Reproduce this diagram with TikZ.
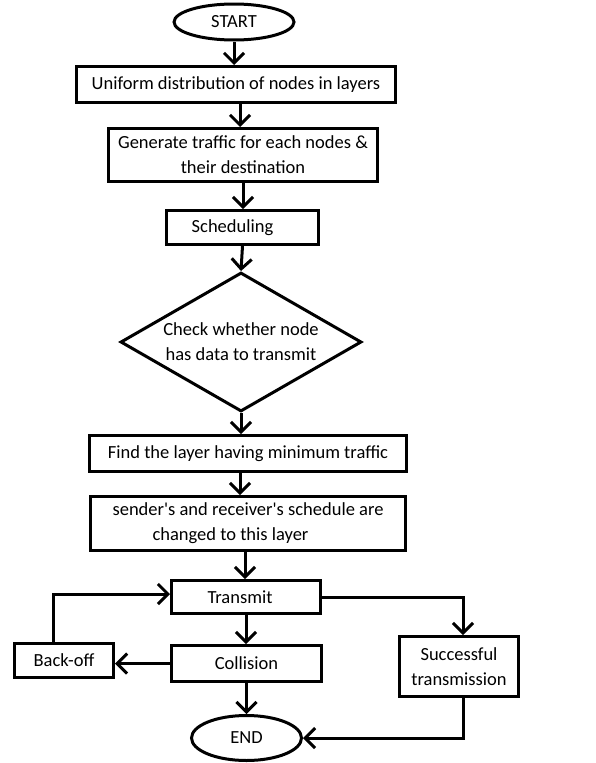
\documentclass[tikz,border=0pt]{standalone}
\usepackage{fontspec}
\setmainfont{Carlito}[Ligatures=TeXOff]
\usetikzlibrary{arrows.meta,shapes.geometric}
\begin{document}
\begin{tikzpicture}[x=1pt,y=-1pt,
  txt/.style={font=\fontsize{18.5}{25}\selectfont, text=black},
  box/.style={txt, draw, line width=3pt, rectangle, inner sep=0pt, align=center},
  oval/.style={txt, draw, line width=3pt, ellipse, inner sep=0pt},
  dec/.style={txt, draw, line width=3pt, diamond, aspect=1.72, inner sep=0pt, align=center},
  arr/.style={line width=3pt, -{Straight Barb[length=10pt,width=20pt]}}]
\useasboundingbox (0,0) rectangle (596,763);
\node[oval, minimum width=120pt, minimum height=36pt] (start) at (234,22) {START};
\node[box, minimum width=319pt, minimum height=36pt] (b1) at (236,84.5) {Uniform distribution of nodes in layers};
\node[box, minimum width=269pt, minimum height=53pt] (b2) at (243,155) {Generate traffic for each nodes \&\\their destination};
\node[box, minimum width=152pt, minimum height=34pt] (b3) at (242.5,227.5) {Scheduling\rule{20pt}{0pt}};
\node[dec, minimum width=241pt, minimum height=139pt] (dia) at (241,342) {Check whether node\\has data to transmit};
\node[box, minimum width=317pt, minimum height=36pt] (find) at (248,453.5) {Find the layer having minimum traffic};
\node[box, minimum width=315pt, minimum height=54pt] (send) at (248,523.5) {sender's and receiver's schedule are\\changed to this layer\rule{35pt}{0pt}};
\node[box, minimum width=149pt, minimum height=33pt] (tx) at (246,597) {Transmit\rule{12pt}{0pt}};
\node[box, minimum width=150pt, minimum height=36pt] (col) at (246.5,663.5) {Collision};
\node[box, minimum width=99pt, minimum height=34pt] (bo) at (64,660.5) {Back-off};
\node[box, minimum width=119pt, minimum height=60pt] (suc) at (459,666.5) {Successful\\transmission};
\node[oval, minimum width=110pt, minimum height=45pt] (end) at (246.5,738) {END};
\draw[arr] (start.south) -- (start.south |- b1.north);
\draw[arr] ([xshift=4pt]b1.south) -- ([xshift=4pt]b1.south |- b2.north);
\draw[arr] (b2.south) -- (b2.south |- b3.north);
\draw[arr] (b3.south) -- (dia.north);
\draw[arr] (dia.south) -- (dia.south |- find.north);
\draw[arr] ([xshift=-8pt]find.south) -- ([xshift=-8pt]find.south |- send.north);
\draw[arr] ([xshift=-3pt]send.south) -- ([xshift=-3pt]send.south |- tx.north);
\draw[arr] (tx.south) -- (tx.south |- col.north);
\draw[arr] (col.west) -- (col.west -| bo.east);
\draw[arr] ([xshift=-11pt]bo.north) |- ([yshift=3pt]tx.west);
\draw[arr] (tx.east) -| ([xshift=4pt]suc.north);
\draw[arr] (col.south) -- (col.south |- end.north);
\draw[arr] ([xshift=4pt]suc.south) |- (end.east);
\end{tikzpicture}
\end{document}
